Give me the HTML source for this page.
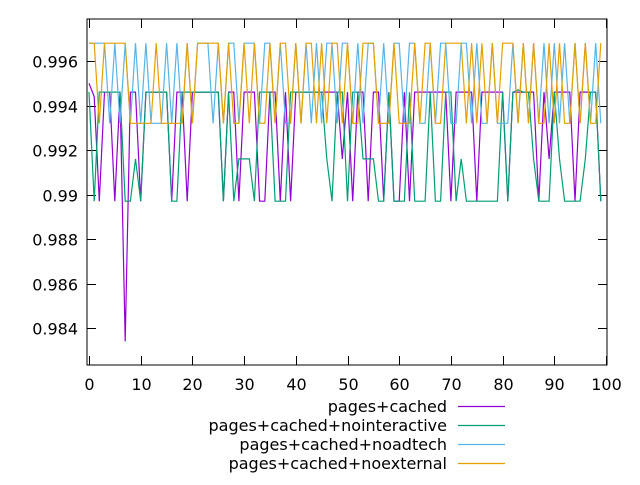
<!DOCTYPE html>
<html><head><meta charset="utf-8"><style>
body{margin:0;background:#fff}
svg{font-family:"DejaVu Sans","Liberation Sans",sans-serif;font-size:16px}
</style></head><body>
<svg id="chart" width="640" height="480" xmlns="http://www.w3.org/2000/svg">
<g id="grid"></g><g id="series"></g><g id="legend"></g>
</svg>
<script>
const H=0.9946,L=0.9897,M=0.9916,BH=0.9968,BL=0.9932;
const yTicks=[0.984,0.986,0.988,0.99,0.992,0.994,0.996];
const yTickLabels=["0.984","0.986","0.988","0.99","0.992","0.994","0.996"];
const xTicks=[0,10,20,30,40,50,60,70,80,90,100];
const seriesNames=["pages+cached","pages+cached+nointeractive","pages+cached+noadtech","pages+cached+noexternal"];
const seriesColors=["#9400d3","#009e73","#56b4e9","#e69f00"];
const cached=[0.995,0.9944,L,H,H,L,H,0.9834,H,H,L,H,H,H,H,H,L,H,H,L,H,H,H,H,H,H,L,H,H,L,H,H,H,L,L,H,H,L,H,L,H,H,H,H,H,H,H,H,H,M,H,L,H,H,L,H,H,L,H,L,L,H,L,H,H,H,H,H,H,H,L,H,H,H,H,L,H,H,H,H,H,L,H,H,H,H,H,L,H,M,H,H,H,H,L,H,H,H,H,L];
const nointeractive=[H,L,H,H,H,H,H,L,L,M,L,H,H,H,H,H,L,L,H,H,H,H,H,H,H,H,L,H,L,M,M,M,L,H,H,H,L,L,L,H,H,H,H,H,H,H,M,L,H,H,L,H,H,M,M,M,L,L,H,L,L,L,H,L,L,L,H,L,L,H,H,L,M,L,L,L,L,L,L,L,H,L,H,0.9947,H,H,M,L,L,L,H,M,L,L,L,L,M,H,H,L];
const noadtech=[BH,BH,BH,BH,BL,BH,BL,BH,BL,BH,BL,BH,BL,BL,BL,BH,BL,BH,BL,BH,BL,BH,BH,BH,BL,BH,BL,BH,BH,BL,BH,BH,BH,BL,BH,BH,BL,BH,BL,BL,BH,BL,BH,BL,BH,BL,BH,BH,BL,BH,BH,BL,BH,BL,BH,BH,BL,BH,BL,BH,BH,BL,BH,BH,BL,BL,BH,BL,BH,BH,BL,BL,BH,BH,BL,BH,BL,BL,BH,BL,BL,BL,BH,BL,BH,BL,BH,BL,BH,BL,BH,BL,BH,BL,BH,BL,BH,BL,BH,BL];
const noexternal=[BH,BH,BL,BH,BH,BH,BH,BH,BL,BL,BL,BL,BL,BH,BL,BL,BL,BL,BL,BH,BL,BH,BH,BH,BH,BH,BL,BH,BL,BL,BH,BL,BH,BL,BL,BH,BL,BH,BH,BL,BH,BL,BH,BH,BL,BH,BL,BH,BH,BL,BH,BL,BL,BH,BH,BH,BL,BL,BL,BH,BL,BL,BL,BH,BL,BH,BH,BL,BL,BH,BH,BH,BH,BL,BH,BL,BH,BL,BH,BL,BH,BH,BH,BL,BH,BL,BH,BL,BL,BH,BL,BH,BL,BL,BH,BL,BH,BL,BL,BH];
const allSeries=[cached,nointeractive,noadtech,noexternal];

const PL=87,PR=607,PT=19,PB=365;
const x=i=>89+(i/100)*517;
const y=v=>61+(0.996-v)*22250;
const NS="http://www.w3.org/2000/svg";
function mk(tag,attrs,parent){const e=document.createElementNS(NS,tag);for(const k in attrs)e.setAttribute(k,attrs[k]);parent.appendChild(e);return e;}
const grid=document.getElementById('grid');
const frame=mk('rect',{x:PL,y:PT,width:PR-PL,height:PB-PT,fill:'none',stroke:'#000','stroke-width':1},grid);


yTicks.forEach((t,i)=>{
  const yy=Math.round(y(t))+0.5;
  const l1=mk('line',{x1:PL,x2:PL+9,y1:yy,y2:yy,stroke:'#000'},grid);
  
  
  const l2=mk('line',{x1:PR-9,x2:PR,y1:yy,y2:yy,stroke:'#000'},grid);
  
  
  const tx=mk('text',{x:PL-9,y:yy+6,'text-anchor':'end'},grid);
  tx.textContent=yTickLabels[i];
  
  
});
xTicks.forEach(t=>{
  const xx=Math.round(x(t))+0.5;
  const l1=mk('line',{x1:xx,x2:xx,y1:PB,y2:PB-9,stroke:'#000'},grid);
  
  
  const l2=mk('line',{x1:xx,x2:xx,y1:PT,y2:PT+9,stroke:'#000'},grid);
  
  
  const tx=mk('text',{x:xx,y:390,'text-anchor':'middle'},grid);
  tx.textContent=String(t);
  
  
});
const sg=document.getElementById('series');
allSeries.forEach((s,k)=>{
  const pts=s.map((v,i)=>x(i).toFixed(1)+','+y(v).toFixed(1)).join(' ');
  const pl=mk('polyline',{points:pts,fill:'none',stroke:seriesColors[k],'stroke-width':1.2},sg);
  
  
});
const lg=document.getElementById('legend');
seriesNames.forEach((n,k)=>{
  const yy=406+k*19;
  const tx=mk('text',{x:447,y:yy+6,'text-anchor':'end'},lg);
  tx.textContent=n;
  
  
  const ln=mk('line',{x1:458,x2:505,y1:yy+0.5,y2:yy+0.5,stroke:seriesColors[k],'stroke-width':1.2},lg);
  
  
});
</script>
</body></html>
